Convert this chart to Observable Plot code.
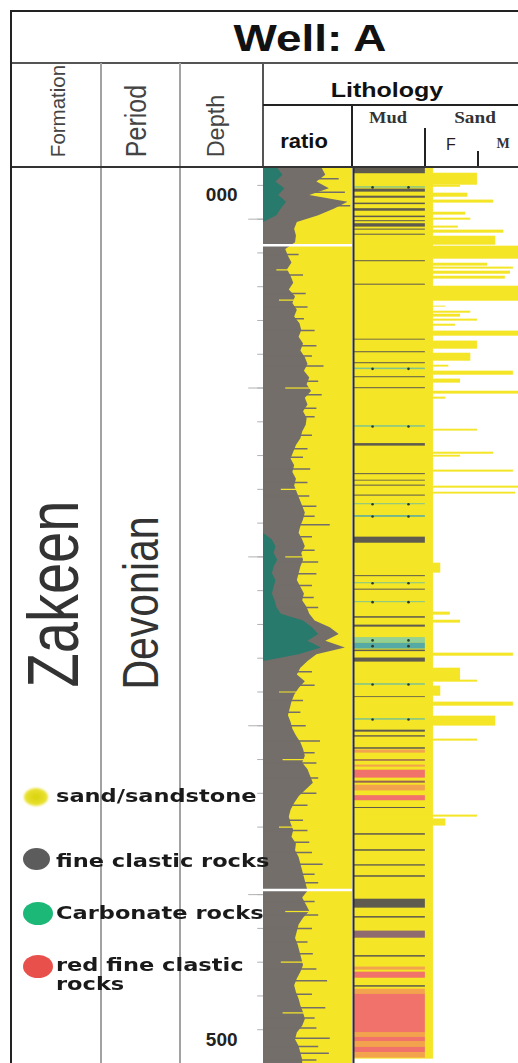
<!DOCTYPE html>
<html><head><meta charset="utf-8">
<script src="https://cdn.jsdelivr.net/npm/d3@7"></script>
<script src="https://cdn.jsdelivr.net/npm/@observablehq/plot@0.6"></script>
<style>
html,body{margin:0;padding:0;background:#fff;}
#page{position:relative;width:518px;height:1063px;overflow:hidden;background:#fff;font-family:"Liberation Sans",Arial,sans-serif;}
.ln{position:absolute;}
.t{position:absolute;white-space:nowrap;line-height:1;}
.plot{position:absolute;top:168px;}
.plot svg{display:block;overflow:hidden;}
.lg{position:absolute;left:56px;white-space:nowrap;line-height:1;font-family:"DejaVu Sans",Verdana,sans-serif;font-weight:bold;font-size:18px;color:#1a1a1a;transform-origin:0 50%;transform:scaleX(1.25);}
.dotk{position:absolute;border-radius:50%;}
</style></head><body>
<div id="page">
  <!-- frame lines -->
  <div class="ln" style="left:10px;top:10px;width:510px;height:2px;background:#222"></div>
  <div class="ln" style="left:10px;top:10px;width:2px;height:1053px;background:#222"></div>
  <div class="ln" style="left:12px;top:62px;width:508px;height:2px;background:#555"></div>
  <div class="ln" style="left:100px;top:63px;width:2px;height:1000px;background:#a2a2a2"></div>
  <div class="ln" style="left:179px;top:63px;width:2px;height:1000px;background:#a2a2a2"></div>
  <div class="ln" style="left:262px;top:63px;width:2px;height:105px;background:#555"></div>
  <div class="ln" style="left:263px;top:104px;width:257px;height:2px;background:#222"></div>
  <div class="ln" style="left:351px;top:105px;width:2px;height:63px;background:#222"></div>
  <div class="ln" style="left:424px;top:128px;width:2px;height:40px;background:#222"></div>
  <div class="ln" style="left:477px;top:151px;width:2px;height:17px;background:#222"></div>
  <div class="ln" style="left:12px;top:166px;width:508px;height:2px;background:#333"></div>

  <!-- header texts -->
  <div class="t" style="left:310px;top:38px;font-size:37px;font-weight:bold;color:#111;transform:translate(-50%,-50%) scaleX(1.24)">Well: A</div>
  <div class="t" style="left:387px;top:90px;font-size:20px;font-weight:bold;color:#111;transform:translate(-50%,-50%) scaleX(1.25)">Lithology</div>
  <div class="t" style="left:304px;top:141px;font-size:20px;font-weight:bold;color:#111;transform:translate(-50%,-50%) scaleX(1.1)">ratio</div>
  <div class="t" style="left:388px;top:118px;font-size:16px;font-weight:bold;color:#333;font-family:'Liberation Serif',serif;transform:translate(-50%,-50%) scaleX(1.15)">Mud</div>
  <div class="t" style="left:475px;top:118px;font-size:16px;font-weight:bold;color:#333;font-family:'Liberation Serif',serif;transform:translate(-50%,-50%) scaleX(1.2)">Sand</div>
  <div class="t" style="left:451px;top:145px;font-size:16px;color:#2a1a1a;transform:translate(-50%,-50%)">F</div>
  <div class="t" style="left:503px;top:144px;font-size:14px;font-weight:bold;color:#333;font-family:'Liberation Serif',serif;transform:translate(-50%,-50%)">M</div>
  <div class="t" style="left:57.5px;top:111px;font-size:20.5px;color:#444;transform:translate(-50%,-50%) rotate(-90deg)">Formation</div>
  <div class="t" style="left:136px;top:121px;font-size:25px;color:#444;transform:translate(-50%,-50%) rotate(-90deg) scaleY(1.2)">Period</div>
  <div class="t" style="left:217px;top:126px;font-size:23.5px;color:#444;transform:translate(-50%,-50%) rotate(-90deg)">Depth</div>

  <!-- body rotated labels -->
  <div class="t" style="left:54px;top:594px;font-size:56px;color:#333;transform:translate(-50%,-50%) rotate(-90deg) scaleY(1.28)">Zakeen</div>
  <div class="t" style="left:142px;top:603px;font-size:41px;color:#333;transform:translate(-50%,-50%) rotate(-90deg) scaleY(1.2)">Devonian</div>

  <div id="depth" class="plot" style="left:181px"></div>
  <div id="ratio" class="plot" style="left:263px"></div>
  <div id="grain" class="plot" style="left:351px"></div>

  <!-- legend -->
  <div class="dotk" style="left:24px;top:788px;width:24px;height:18px;background:radial-gradient(#d9d20c,#f2ea45);filter:blur(0.8px)"></div>
  <div class="dotk" style="left:23px;top:848px;width:27px;height:22px;background:#5c5c5c"></div>
  <div class="dotk" style="left:23px;top:902px;width:30px;height:23px;background:#1bb877"></div>
  <div class="dotk" style="left:23px;top:955px;width:30px;height:23px;background:#e8504c"></div>
  <div class="lg" style="top:787px">sand/sandstone</div>
  <div class="lg" style="top:852px">fine clastic rocks</div>
  <div class="lg" style="top:904px">Carbonate rocks</div>
  <div class="lg" style="top:956px">red fine clastic</div>
  <div class="lg" style="top:975px">rocks</div>
</div>
<script>
// ---------- DATA ----------
// depth ticks (track depth units; 000 at first major tick)
const minorTicks = [-20,0,20,40,60,80,100,120,140,160,180,200,220,240,260,280,300,320,340,360,380,400,420,440,460,480,500];
const majorTicks = [0,100,200,300,400,500];
const depthLabelAt = [0,500];
const depthLabels = ["000","500"];

// ratio track: share (%) of fine clastic (gray) and carbonate (teal) from left
const ratioDepth = [-30,-26,-22,-18,-14,-10,-6,-2,2,6,10,14,18,22,26,30,34,38,42,46,50,54,58,62,66,70,74,78,82,86,90,94,98,102,106,110,114,118,122,126,130,134,138,142,146,150,154,158,162,166,170,174,178,182,186,190,194,198,202,206,210,214,218,222,226,230,234,238,242,246,250,254,258,262,266,270,274,278,282,286,290,294,298,302,306,310,314,318,322,326,330,334,338,342,346,350,354,358,362,366,370,374,378,382,386,390,394,398,402,406,410,414,418,422,426,430,434,438,442,446,450,454,458,462,466,470,474,478,482,486,490,494,498,500];
const grayShare = [66,70,60,74,52,95,80,62,38,35,37,36,25,28,32,27,31,34,29,36,33,38,35,41,43,40,45,42,47,50,46,52,49,54,47,50,45,49,48,44,42,37,34,31,35,33,37,35,38,41,44,47,45,42,40,44,47,43,45,42,40,38,42,46,44,49,52,58,75,85,70,92,60,50,42,38,47,40,35,32,30,28,31,33,37,42,45,47,44,50,53,56,48,40,35,31,29,31,34,32,37,36,40,42,44,46,48,50,44,48,52,45,40,38,36,39,41,43,45,42,38,35,37,40,42,45,47,44,38,36,40,42,44,44];
const tealDepth = [-30,-26,-22,-18,-14,-10,-6,-2,2,186,190,194,198,202,206,210,214,218,222,226,230,234,238,242,246,250,254,258,262];
const tealShare = [16,22,14,24,17,26,20,15,0,0,10,14,12,16,12,10,14,12,10,13,15,20,45,55,62,50,65,40,0];
// thin fine-clastic streaks reaching into the sand part
const spikeDepth = [-24,-16,-8,21,33,44,52,59,66,75,81,87,96,104,112,117,128,136,141,148,156,164,170,176,181,188,196,203,210,217,224,230,268,276,285,292,300,309,316,322,331,340,347,356,362,369,375,382,388,393,404,412,420,428,435,444,451,459,467,473,479,485,490,494,498];
const spikeShare = [85,92,98,40,45,48,50,46,58,60,55,68,62,66,60,58,55,50,45,53,50,52,60,58,75,55,58,62,60,55,57,62,55,58,45,42,48,64,58,60,62,60,50,45,50,52,55,67,58,62,58,62,55,50,56,60,72,55,70,58,60,75,62,74,60];
// thin sand streaks cutting into the fine-clastic part
const notchDepth = [30,48,100,160,200,280,320,360,410,440,470];
const notchShare = [15,18,25,20,25,18,22,18,25,20,22];
const breakDepth = [15.4,397.3];

// grain-size track: sand beds [top, base, grain size]; 1 = mud/sand boundary
const sandBeds = [
 [-30,497.4,1.09],[-27.2,-20.1,1.69],[-20.1,-18.9,1.46],[-15.4,-13.0,1.56],[-11.3,-9.5,1.91],
 [-4.1,-2.4,1.53],[-0.6,0.6,1.60],[4.1,5.3,1.43],[6.5,8.3,2.05],[10.1,15.4,1.94],
 [16.0,23.7,2.3],[26.1,27.8,1.83],[28.4,29.6,2.18],[30.8,32.6,2.14],[33.8,35.5,2.07],
 [39.7,48.6,2.3],[51.5,52.1,1.26],[54.5,55.7,1.60],[56.3,58.0,1.46],[59.2,60.4,1.69],
 [62.2,63.4,1.39],[66.3,69.3,2.3],[72.2,77.0,1.69],[79.4,84.1,1.60],[86.5,87.6,1.30],
 [90.0,92.4,2.18],[94.7,97.1,1.46],[101.9,103.6,2.3],[105.4,106.6,1.26],[124.4,125.5,1.69],
 [138.0,139.2,1.91],[139.8,140.9,1.46],[148.6,149.8,2.18],[158.1,159.3,2.3],[161.7,162.8,2.21],
 [203.7,209.6,1.19],[232.7,234.5,1.32],[237.5,239.2,1.46],[257.0,258.8,2.18],[265.9,273.6,1.46],
 [273.0,274.2,1.69],[276.5,282.5,1.19],[286.0,288.4,2.18],[294.3,300.2,1.94],[307.9,309.1,1.69],
 [352.9,354.1,1.69],[355.2,359.4,1.26]
];
// non-sand beds [top, base, lithology]
const otherBeds = [
 [-30,-26.9,"mud"],[-19.2,-18.4,"carb"],[-17.8,-16.0,"mud"],[-13.6,-12.4,"mud"],[-9.5,-8.6,"mud"],
 [-6.2,-4.7,"mud"],[-1.8,-0.9,"mud"],[0.9,1.5,"mud"],[2.7,4.7,"mud"],[5.9,6.5,"mud"],[8.9,9.5,"mud"],
 [24.6,25.2,"mud"],[38.5,39.1,"mud"],[71.1,71.6,"mud"],[78.5,79.1,"mud"],[85.0,85.6,"mud"],
 [88.2,89.1,"carb"],[93.3,93.9,"mud"],[99.8,100.4,"mud"],[122.3,123.2,"carb"],[132.9,134.4,"mud"],
 [150.7,151.3,"mud"],[154.6,155.1,"mud"],[157.5,158.1,"mud"],[163.4,164.0,"mud"],[168.5,169.1,"carb"],
 [175.6,176.5,"carbT"],[188.3,191.9,"mud"],[211.1,211.7,"mud"],[215.3,215.9,"carb"],[219.1,219.7,"mud"],
 [226.5,227.1,"carb"],[235.4,236.3,"mud"],[240.4,241.6,"mud"],[247.8,251.1,"carbL"],[251.1,254.6,"carbT"],
 [255.2,256.1,"mud"],[259.9,262.3,"mud"],[275.1,276.0,"carb"],[282.8,283.3,"mud"],[295.8,296.7,"carb"],
 [302.6,303.8,"mud"],[305.9,306.7,"mud"],[313.0,313.9,"mud"],[314.4,316.2,"orange"],[320.1,321.0,"brown"],
 [323.3,324.5,"orange"],[326.3,331.0,"red"],[332.8,334.0,"brown"],[335.2,338.6,"orange"],[341.4,344.4,"red"],
 [348.4,349.0,"mud"],[363.9,364.8,"mud"],[373.4,374.3,"mud"],[382.3,383.1,"mud"],[388.8,389.7,"mud"],
 [402.7,408.0,"mud"],[413.0,413.9,"mud"],[421.6,425.8,"mauve"],[436.1,437.0,"mud"],[442.9,444.7,"orange"],
 [445.9,449.5,"red"],[453.9,454.8,"mud"],[456.0,458.9,"orange"],[458.9,482.0,"red"],[482.0,484.4,"orange"],
 [484.4,487.3,"red"],[487.3,490.3,"orange"],[490.3,493.8,"red"],[493.8,496.8,"orange"]
];
const lithNames  = ["mud","carb","carbT","carbL","red","orange","brown","mauve"];
const lithColors = ["#5f5b4e","#7fc48e","#55aaa6","#93d093","#f0726a","#f3a24e","#9a6455","#8f6b6f"];
const carbDotAt = [0.26,0.75];

// ---------- STYLE ----------
const YELLOW = "#f4e526", GRAY = "#736e6a", TEAL = "#287a6c";
const H = 895;
const Y = {domain:[-30,500], range:[0,H], axis:null};

// depth column
const depthPlot = Plot.plot({
  width: 82, height: H, margin: 0,
  x: {domain:[0,1], axis:null}, y: Y,
  marks: [
    Plot.ruleY(minorTicks, {y: d=>d, x1: 0.93, x2: 1, stroke:"#b0b0b0"}),
    Plot.ruleY(majorTicks, {y: d=>d, x1: 0.82, x2: 1, stroke:"#b0b0b0"}),
    Plot.text(depthLabelAt, {y: d=>d, x: 0.49, text: (d,i)=>depthLabels[i], dy:-24, fontSize: 19, fontWeight:"bold",
      fontFamily:"'Liberation Sans Narrow','Liberation Sans',sans-serif", fill:"#222"})
  ]
});
document.getElementById("depth").appendChild(depthPlot);

// ratio column
const ratio = ratioDepth.map((d,i)=>({depth:d, gray:grayShare[i]}));
const teal = tealDepth.map((d,i)=>({depth:d, teal:tealShare[i]}));
const spikes = spikeDepth.map((d,i)=>({depth:d, share:spikeShare[i]}));
const notches = notchDepth.map((d,i)=>({depth:d, share:notchShare[i]}));
const ratioPlot = Plot.plot({
  width: 89, height: H, margin: 0,
  x: {domain:[0,100], axis:null}, y: Y,
  marks: [
    Plot.areaX(ratio, {y:"depth", x1:0, x2:100, fill:YELLOW}),
    Plot.areaX(ratio, {y:"depth", x1:0, x2:"gray", fill:GRAY}),
    Plot.ruleY(spikes, {y:"depth", x1:0, x2:"share", stroke:GRAY, strokeWidth:1.5}),
    Plot.ruleY(notches, {y:"depth", x1:"share", x2:60, stroke:YELLOW, strokeWidth:1.2}),
    Plot.areaX(teal, {y:"depth", x1:0, x2:"teal", fill:TEAL}),
    Plot.ruleY(breakDepth, {y:d=>d, stroke:"#fff", strokeWidth:2.5})
  ]
});
document.getElementById("ratio").appendChild(ratioPlot);

// grain-size column
const sand = sandBeds.map(([t,b,g])=>({top:t, base:b, grain:g}));
const beds = otherBeds.map(([t,b,l])=>({top:t, base:b, lith:l}));
const carbs = beds.filter(d=>d.lith.startsWith("carb"));
const grainPlot = Plot.plot({
  width: 167, height: H, marginTop:0, marginBottom:0, marginRight:0, marginLeft:2,
  x: {domain:[0,2.25], axis:null}, y: Y,
  color: {domain: lithNames, range: lithColors},
  marks: [
    Plot.rect(sand, {y1:"top", y2:"base", x1:0, x2:"grain", fill:YELLOW}),
    Plot.rect(beds, {y1:"top", y2:"base", x1:0, x2:0.98, fill:"lith"}),
    ...carbDotAt.map(p=>Plot.dot(carbs, {y:d=>(d.top+d.base)/2, x:p, r:1.3, fill:"#2a3a2a"})),
    Plot.ruleX([0], {stroke:"#2c2c2c", strokeWidth:2})
  ]
});
document.getElementById("grain").appendChild(grainPlot);
</script>
</body></html>
